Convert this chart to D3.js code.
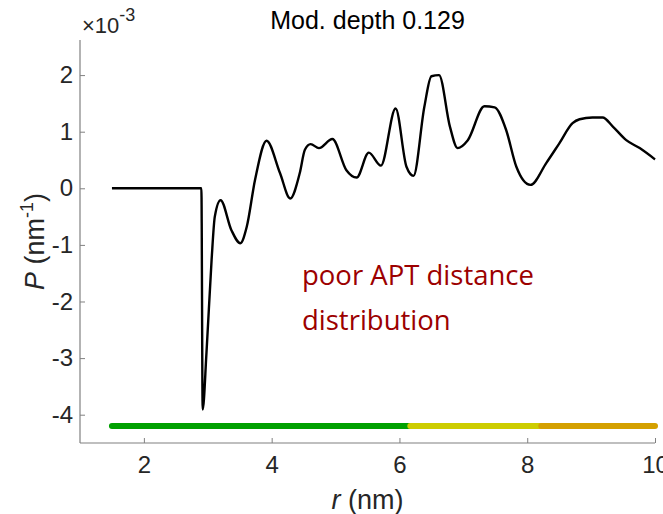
<!DOCTYPE html>
<html>
<head>
<meta charset="utf-8">
<script src="https://cdn.jsdelivr.net/npm/d3@7"></script>
<style>
  body { margin: 0; background: #fff; }
  svg text { font-family: "Liberation Sans", Arial, sans-serif; }
</style>
</head>
<body>
<svg id="chart" width="663" height="514"></svg>
<script>
// ── data (r in nm, P in 1e-3 nm^-1) ─────────────────────────────────────
const rValues = [1.5, 2.9, 2.92, 2.98, 3.06, 3.11, 3.2, 3.37, 3.51, 3.61, 3.74, 3.92,
                 4.13, 4.29, 4.44, 4.52, 4.61, 4.74, 4.95, 5.17, 5.33, 5.52, 5.71, 5.94,
                 6.11, 6.22, 6.39, 6.5, 6.62, 6.79, 6.91, 7.07, 7.33, 7.49, 7.67, 7.83,
                 8.05, 8.3, 8.5, 8.71, 8.82, 9.02, 9.18, 9.34, 9.55, 9.76, 10.0];
const pValues = [0, 0, -3.91, -2.9, -1.26, -0.5, -0.21, -0.74, -0.97, -0.68, 0.15, 0.84,
                 0.27, -0.18, 0.27, 0.68, 0.78, 0.71, 0.87, 0.32, 0.19, 0.63, 0.40, 1.41,
                 0.38, 0.22, 1.44, 1.98, 2.0, 1.09, 0.71, 0.85, 1.45, 1.43, 1.03, 0.38,
                 0.06, 0.45, 0.79, 1.15, 1.22, 1.25, 1.25, 1.09, 0.85, 0.71, 0.51];

// quality bar segments drawn at P = -4.2
const barLevel    = -4.2;
const barStarts   = [1.5, 6.17, 8.22];
const barEnds     = [6.17, 8.22, 10.0];
const barColors   = ["#00a000", "#cdcd00", "#d4a000"];

const xTicks = [2, 4, 6, 8, 10];
const yTicks = [-4, -3, -2, -1, 0, 1, 2];
const titleText = "Mod. depth 0.129";
const noteLines = ["poor APT distance", "distribution"];

// ── geometry ────────────────────────────────────────────────────────────
const margin = { top: 40, right: 8, bottom: 71, left: 80 };
const W = 663, H = 514;
const innerW = W - margin.left - margin.right;
const innerH = H - margin.top - margin.bottom;

const svg = d3.select("#chart");
const g = svg.append("g").attr("transform", `translate(${margin.left},${margin.top})`);

const x = d3.scaleLinear().domain([1, 10]).range([0, innerW]);
const y = d3.scaleLinear().domain([-4.5, 2.62]).range([innerH, 0]);

const axisColor = "#808080";
const tickText  = "#262626";

// ── axes (ticks point inward, like MATLAB) ──
const xAxisG = g.append("g")
    .attr("transform", `translate(0,${innerH})`)
    .call(d3.axisBottom(x).tickValues(xTicks).tickSize(-5).tickPadding(13).tickFormat(d => String(d)));
const yAxisG = g.append("g")
    .call(d3.axisLeft(y).tickValues(yTicks).tickSize(-5).tickPadding(7).tickFormat(d => String(d)));

[xAxisG, yAxisG].forEach(a => {
    a.selectAll("path").attr("stroke", axisColor).attr("stroke-width", 1.2);
    a.selectAll("line").attr("stroke", axisColor);
    a.selectAll("text").attr("fill", tickText).style("font-size", "24px");
});
// axis domain path without outer ticks
xAxisG.select("path").attr("d", `M0,0H${innerW}`);
yAxisG.select("path").attr("d", `M0,${innerH}V0`);

// ── quality bar ──
g.selectAll(".qbar")
    .data(barStarts.map((s, i) => ({ s, e: barEnds[i], c: barColors[i] })))
    .enter().append("line")
    .attr("class", "qbar")
    .attr("x1", d => x(d.s)).attr("x2", d => x(d.e))
    .attr("y1", y(barLevel)).attr("y2", y(barLevel))
    .attr("stroke", d => d.c)
    .attr("stroke-width", 6)
    .attr("stroke-linecap", "round");

// ── distance distribution curve ──
const pts = rValues.map((r, i) => [r, pValues[i]]);
const line = d3.line()
    .x(d => x(d[0]))
    .y(d => y(d[1]))
    .curve(d3.curveMonotoneX);

g.append("path")
    .datum(pts)
    .attr("d", line)
    .attr("fill", "none")
    .attr("stroke", "#000")
    .attr("stroke-width", 2.4)
    .attr("stroke-linejoin", "round");

// ── annotation ──
g.selectAll(".note")
    .data(noteLines)
    .enter().append("text")
    .attr("class", "note")
    .attr("x", 302 - margin.left)
    .attr("y", (d, i) => 285 - margin.top + i * 45)
    .attr("fill", "#9c0000")
    .style("font-family", "'Open Sans', Lato, sans-serif")
    .style("font-size", "27.5px")
    .text(d => d);

// ── title ──
svg.append("text")
    .attr("x", margin.left + innerW / 2)
    .attr("y", 29)
    .attr("text-anchor", "middle")
    .attr("fill", "#000")
    .style("font-size", "25px")
    .text(titleText);

// ── exponent label ──
const expo = svg.append("text")
    .attr("x", 82)
    .attr("y", 33)
    .attr("fill", tickText)
    .style("font-size", "22px");
expo.append("tspan").text("\u00d710");
expo.append("tspan").attr("dy", -12).style("font-size", "18px").text("-3");

// ── axis labels ──
const xl = svg.append("text")
    .attr("x", margin.left + innerW / 2)
    .attr("y", 509)
    .attr("text-anchor", "middle")
    .attr("fill", tickText)
    .style("font-size", "27px");
xl.append("tspan").style("font-style", "italic").text("r");
xl.append("tspan").text(" (nm)");

const yl = svg.append("text")
    .attr("transform", `translate(44,${margin.top + innerH / 2}) rotate(-90)`)
    .attr("text-anchor", "middle")
    .attr("fill", tickText)
    .style("font-size", "27px");
yl.append("tspan").style("font-style", "italic").text("P");
yl.append("tspan").text(" (nm");
yl.append("tspan").attr("dy", -11).style("font-size", "18px").text("-1");
yl.append("tspan").attr("dy", 11).text(")");
</script>
</body>
</html>
